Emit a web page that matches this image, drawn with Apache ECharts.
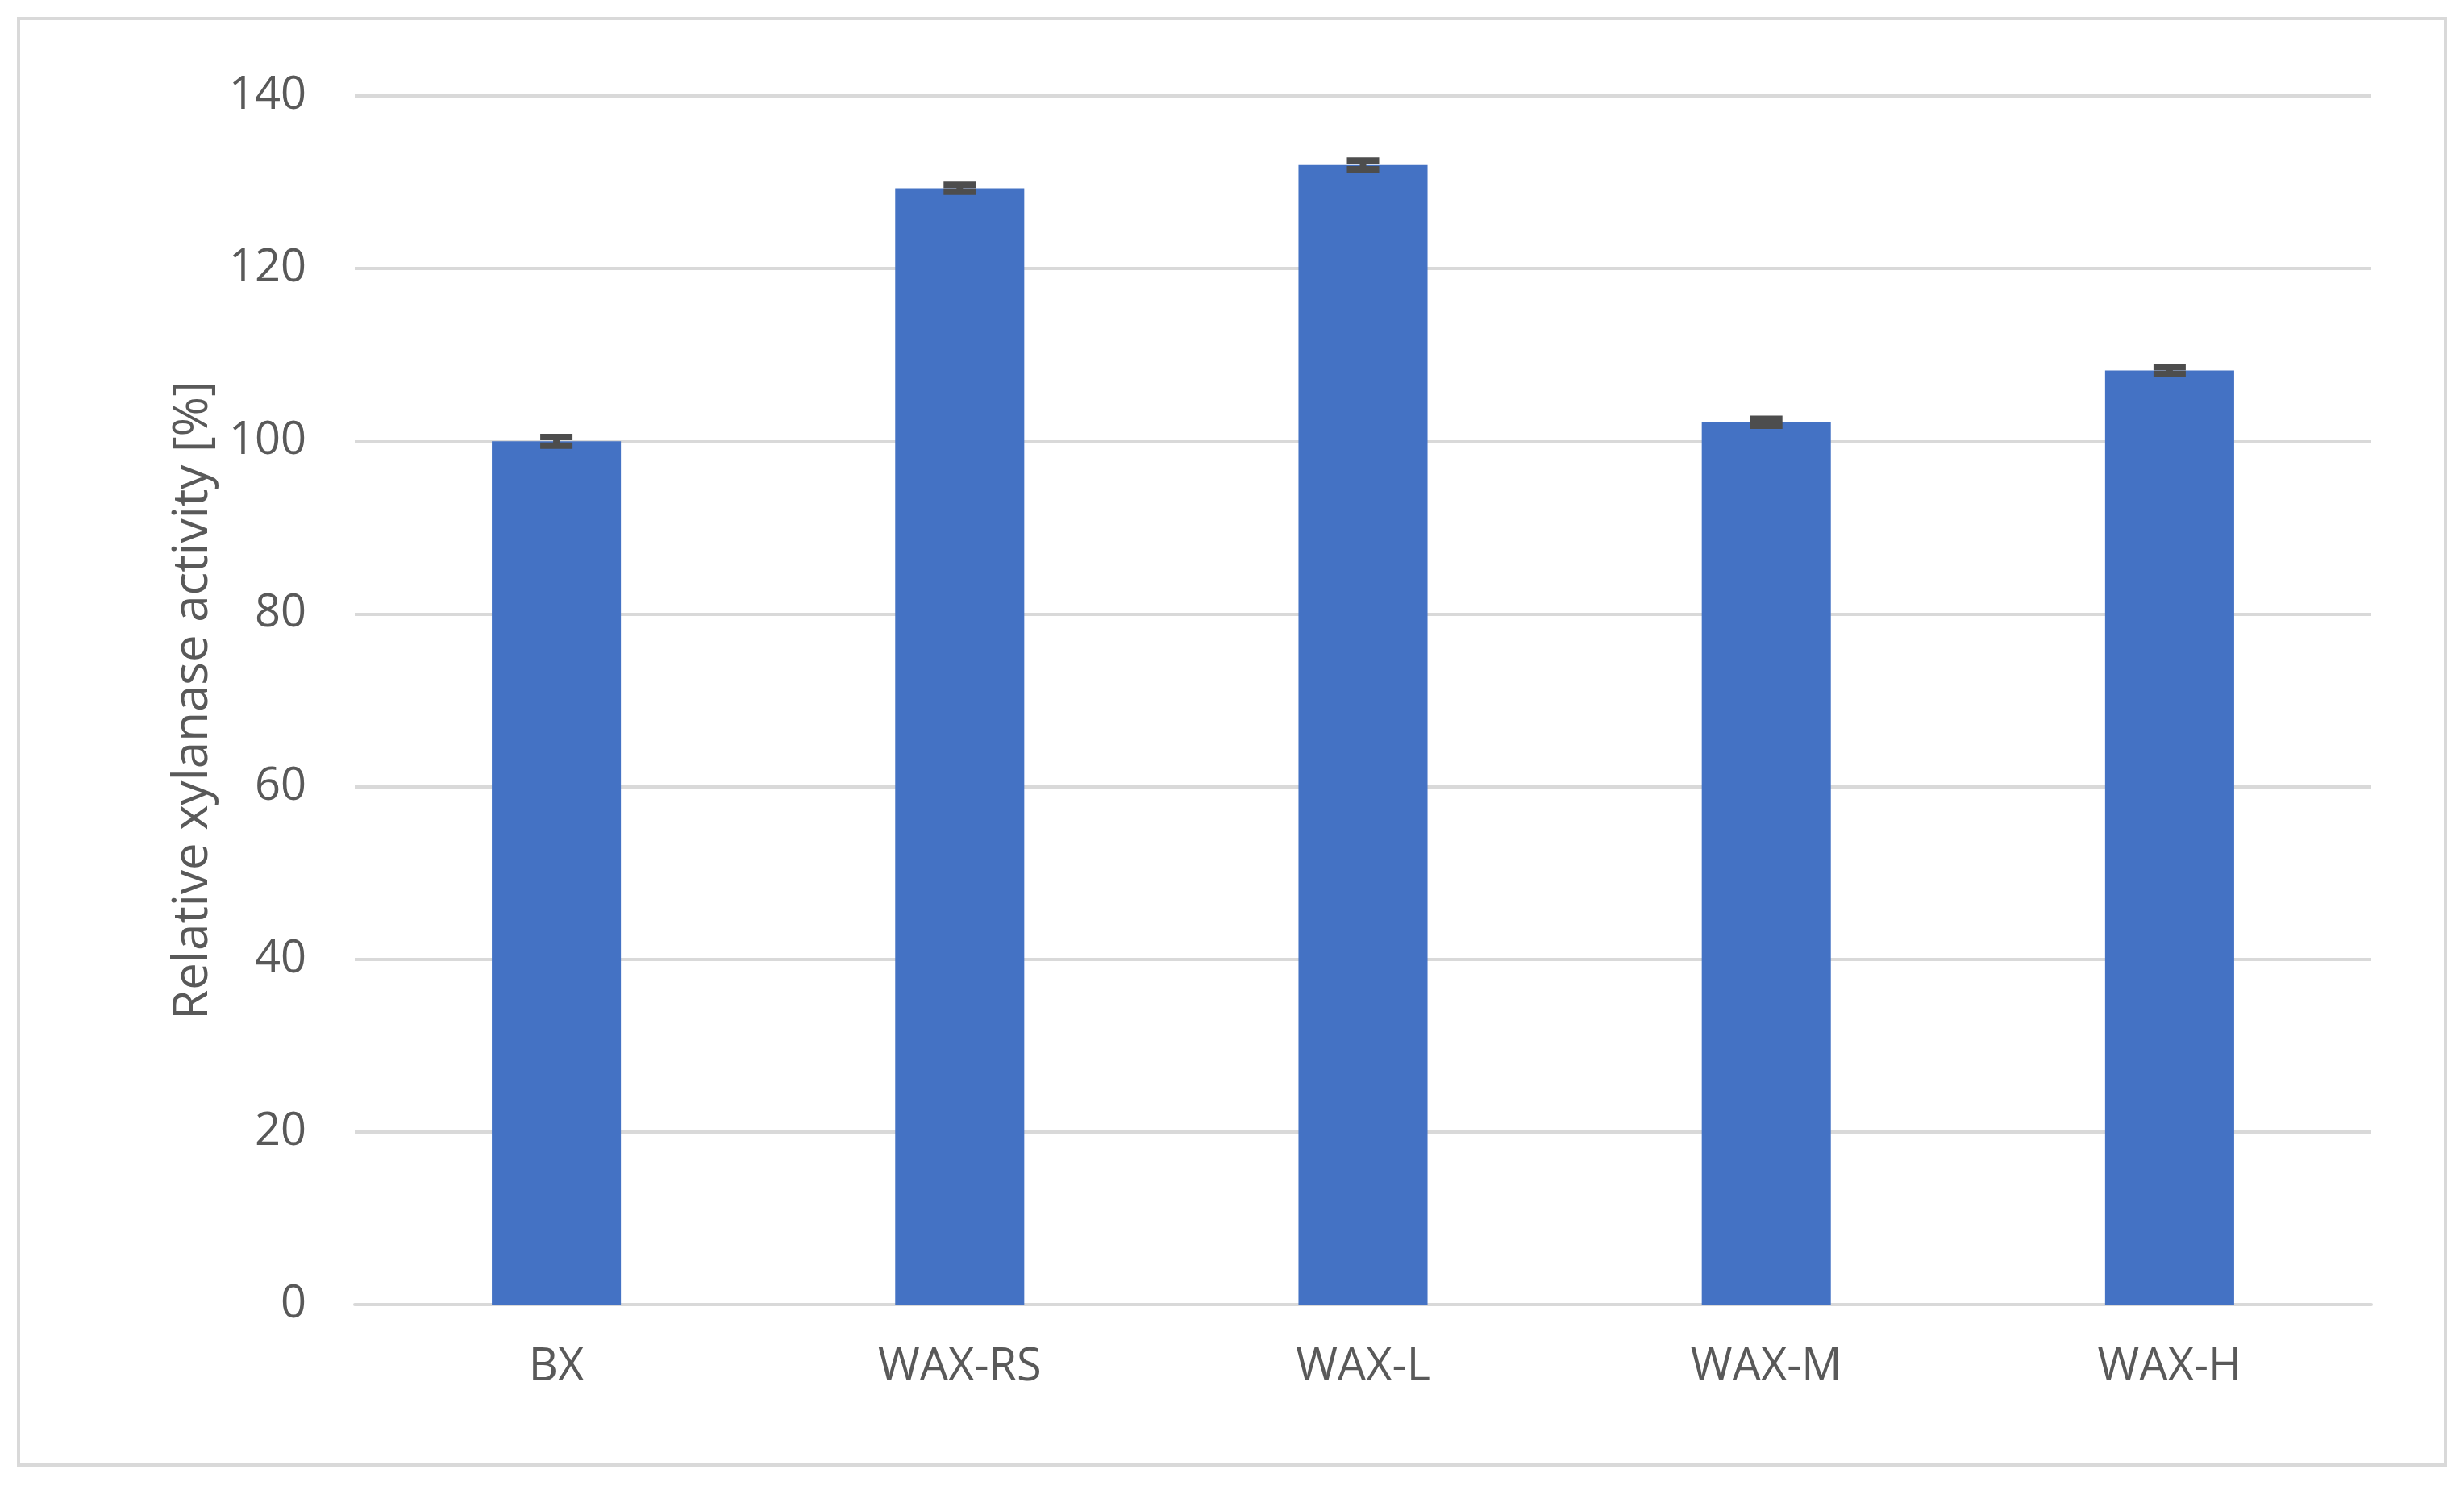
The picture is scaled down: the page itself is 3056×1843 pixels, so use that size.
<!DOCTYPE html>
<html>
<head>
<meta charset="utf-8">
<script src="https://cdn.jsdelivr.net/npm/echarts@6/dist/echarts.min.js"></script>
<style>
html,body{margin:0;padding:0;background:#fff;}
#chart{width:3056px;height:1843px;}
</style>
</head>
<body>
<div id="chart"></div>
<script>
// data
var categories = ['BX', 'WAX-RS', 'WAX-L', 'WAX-M', 'WAX-H'];
var activity = [100, 129.3, 132, 102.2, 108.2];
var errors = [0.5, 0.4, 0.5, 0.4, 0.4];

var errData = [];
for (var i = 0; i < activity.length; i++) {
	errData.push([i, activity[i] - errors[i], activity[i] + errors[i]]);
}

var myChart = echarts.init(document.getElementById('chart'));
var txt = '#595959';
myChart.setOption({
	animation: false,
	graphic: [{
		type: 'rect',
		shape: {x: 23, y: 23, width: 3010, height: 1794},
		style: {fill: 'none', stroke: '#d9d9d9', lineWidth: 4}
	}],
	grid: {left: 440, right: 115, top: 119, bottom: 225},
	xAxis: {
		type: 'category',
		data: categories,
		axisTick: {show: false},
		axisLine: {lineStyle: {color: '#d9d9d9', width: 4}},
		axisLabel: {color: txt, fontSize: 56, margin: 50, fontFamily: 'Open Sans'}
	},
	yAxis: {
		type: 'value',
		min: 0, max: 140, interval: 20,
		name: 'Relative xylanase activity [%]',
		nameLocation: 'middle',
		nameGap: 170,
		nameTextStyle: {color: txt, fontSize: 60, fontFamily: 'Open Sans'},
		axisLabel: {color: txt, fontSize: 56, margin: 60, fontFamily: 'Open Sans'},
		splitLine: {lineStyle: {color: '#d9d9d9', width: 4}}
	},
	series: [{
		type: 'bar',
		data: activity,
		barWidth: '32%',
		itemStyle: {color: '#4472c4'}
	}, {
		type: 'custom',
		data: errData,
		z: 10,
		renderItem: function (params, api) {
			var lo = api.coord([api.value(0), api.value(1)]);
			var hi = api.coord([api.value(0), api.value(2)]);
			var w = 20;
			var st = {stroke: '#4d4d4d', lineWidth: 8};
			return {
				type: 'group',
				children: [
					{type: 'line', shape: {x1: hi[0], y1: hi[1], x2: lo[0], y2: lo[1]}, style: st},
					{type: 'line', shape: {x1: hi[0] - w, y1: hi[1], x2: hi[0] + w, y2: hi[1]}, style: st},
					{type: 'line', shape: {x1: lo[0] - w, y1: lo[1], x2: lo[0] + w, y2: lo[1]}, style: st}
				]
			};
		}
	}]
});
</script>
</body>
</html>
